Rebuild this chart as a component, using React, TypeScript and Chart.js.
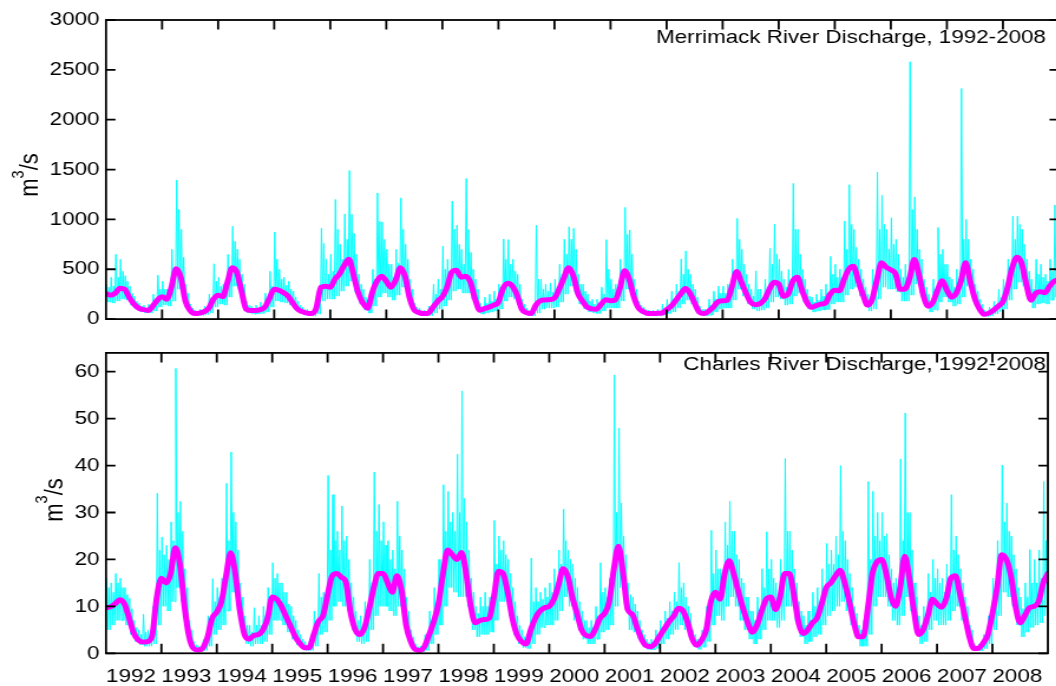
import React, { useEffect, useRef } from "react";
import { Chart, registerables } from "chart.js";

Chart.register(...registerables);

// ---------- data ----------
const START_YEAR = 1992;
const END_YEAR = 2009;
const YEAR_LABELS = [1992, 1993, 1994, 1995, 1996, 1997, 1998, 1999, 2000, 2001, 2002, 2003, 2004, 2005, 2006, 2007, 2008];

const MERRIMACK_TITLE = "Merrimack River Discharge, 1992-2008";
const CHARLES_TITLE = "Charles River Discharge, 1992-2008";
const MERRIMACK_TICKS = [0, 500, 1000, 1500, 2000, 2500, 3000];
const CHARLES_TICKS = [0, 10, 20, 30, 40, 50, 60];

// Merrimack: smoothed (monthly, Jan..Dec per row, plus Jan 2009)
const merrimackSmooth = [
  255, 240, 260, 310, 300, 215, 150, 110, 95, 87, 130, 190,
  225, 200, 320, 505, 420, 180, 87, 55, 60, 75, 110, 200,
  240, 225, 370, 515, 470, 280, 100, 87, 87, 95, 120, 210,
  300, 290, 265, 230, 160, 100, 75, 60, 55, 110, 320, 330,
  320, 400, 455, 540, 600, 440, 260, 160, 110, 270, 380, 430,
  380, 320, 390, 515, 430, 210, 90, 65, 55, 60, 120, 180,
  225, 320, 470, 490, 420, 430, 370, 200, 90, 105, 120, 140,
  170, 310, 360, 330, 240, 100, 65, 55, 140, 185, 192, 195,
  210, 300, 410, 515, 440, 260, 180, 120, 103, 100, 150, 195,
  185, 190, 310, 485, 400, 220, 110, 75, 55, 55, 58, 61,
  95, 130, 190, 250, 306, 260, 160, 70, 55, 80, 120, 175,
  184, 190, 330, 477, 370, 260, 170, 145, 155, 200, 300, 370,
  350, 230, 250, 380, 420, 290, 170, 118, 135, 150, 161, 250,
  290, 285, 400, 500, 530, 390, 250, 140, 200, 390, 565, 520,
  494, 455, 300, 300, 410, 597, 450, 230, 130, 170, 290, 385,
  290, 220, 260, 380, 565, 380, 200, 100, 48, 60, 90, 130,
  175, 320, 520, 620, 560, 350, 190, 260, 275, 265, 330, 380,
  400,
];
// Merrimack: largest daily value in each month
const merrimackHigh = [
  350, 420, 650, 600, 435, 330, 230, 160, 140, 150, 250, 440,
  380, 300, 700, 1394, 900, 350, 150, 90, 100, 130, 250, 555,
  420, 350, 650, 932, 700, 450, 180, 130, 140, 170, 260, 480,
  874, 500, 420, 380, 280, 180, 120, 100, 80, 250, 910, 600,
  650, 1200, 750, 1055, 1490, 860, 450, 300, 200, 500, 1265, 975,
  700, 550, 700, 1216, 750, 400, 160, 110, 90, 130, 350, 400,
  732, 600, 1184, 942, 700, 1410, 668, 400, 160, 220, 250, 280,
  350, 803, 797, 600, 450, 200, 110, 100, 942, 400, 350, 360,
  400, 550, 800, 926, 910, 450, 350, 250, 200, 200, 320, 797,
  400, 350, 600, 1120, 894, 400, 180, 120, 90, 90, 100, 150,
  200, 280, 350, 603, 684, 450, 300, 130, 100, 200, 280, 330,
  330, 350, 600, 1010, 700, 450, 300, 484, 300, 400, 710, 952,
  600, 400, 500, 1361, 900, 500, 300, 220, 250, 300, 350, 629,
  550, 500, 984, 1348, 900, 600, 400, 250, 500, 1474, 1242, 900,
  1016, 800, 500, 550, 2581, 1226, 700, 400, 250, 400, 919, 700,
  550, 400, 500, 2313, 1000, 600, 350, 200, 90, 120, 180, 300,
  400, 600, 1032, 1032, 900, 600, 400, 600, 550, 450, 600, 1145,
];
// Merrimack: second daily peak in each month
const merrimackMid = [
  320, 330, 420, 480, 380, 260, 180, 130, 110, 110, 200, 300,
  300, 260, 480, 1100, 620, 260, 110, 70, 80, 100, 170, 380,
  330, 300, 520, 780, 600, 350, 140, 100, 110, 130, 190, 330,
  600, 400, 340, 300, 220, 140, 95, 75, 65, 180, 760, 450,
  480, 900, 600, 800, 1050, 650, 350, 220, 150, 400, 980, 800,
  550, 420, 560, 900, 600, 300, 120, 80, 70, 90, 250, 300,
  500, 480, 900, 750, 550, 900, 500, 300, 120, 160, 180, 200,
  260, 600, 550, 480, 350, 150, 85, 75, 400, 300, 280, 270,
  320, 450, 650, 800, 700, 350, 280, 180, 150, 150, 250, 500,
  300, 280, 480, 850, 650, 300, 140, 95, 70, 70, 80, 100,
  150, 200, 280, 450, 500, 350, 220, 100, 75, 140, 200, 260,
  260, 280, 480, 800, 550, 350, 230, 300, 220, 300, 550, 650,
  480, 320, 400, 900, 650, 400, 230, 170, 190, 230, 260, 450,
  420, 400, 700, 950, 720, 500, 320, 190, 350, 900, 950, 700,
  750, 650, 420, 420, 1100, 900, 600, 320, 180, 300, 650, 550,
  420, 320, 400, 800, 800, 500, 280, 150, 70, 90, 140, 220,
  300, 480, 800, 950, 750, 480, 300, 450, 420, 380, 480, 700,
];
// Merrimack: smallest daily value in each month
const merrimackLow = [
  170, 160, 180, 200, 190, 140, 100, 75, 60, 60, 80, 120,
  140, 130, 180, 300, 250, 110, 50, 35, 35, 45, 60, 120,
  150, 140, 220, 330, 300, 160, 60, 50, 50, 55, 70, 120,
  180, 170, 160, 140, 100, 60, 40, 35, 30, 50, 180, 200,
  200, 230, 280, 330, 380, 270, 150, 90, 60, 130, 220, 260,
  220, 190, 240, 320, 260, 120, 50, 35, 30, 35, 60, 100,
  130, 190, 280, 300, 260, 260, 200, 110, 50, 60, 70, 80,
  100, 180, 220, 200, 140, 55, 35, 30, 60, 100, 110, 110,
  120, 170, 250, 330, 270, 150, 100, 70, 60, 55, 80, 110,
  110, 110, 180, 300, 250, 130, 60, 40, 30, 30, 30, 35,
  55, 70, 110, 150, 190, 150, 90, 40, 30, 40, 70, 100,
  110, 110, 190, 300, 230, 150, 100, 80, 90, 110, 170, 220,
  200, 140, 150, 230, 260, 170, 100, 70, 80, 90, 95, 150,
  170, 170, 240, 300, 320, 230, 140, 80, 100, 200, 320, 300,
  300, 270, 180, 180, 240, 350, 260, 130, 70, 90, 170, 220,
  170, 130, 150, 220, 330, 220, 110, 55, 25, 30, 50, 75,
  100, 190, 300, 370, 330, 200, 110, 150, 160, 150, 190, 220,
];

// Charles: smoothed (monthly, plus Jan 2009)
const charlesSmooth = [
  9.7, 9.9, 10.6, 11.4, 10.5, 7.5, 4.3, 2.8, 2.4, 2.5, 3.8, 12.0,
  16.0, 15.0, 17.0, 22.5, 19.0, 10.0, 3.5, 1.0, 0.7, 1.2, 3.5, 7.5,
  8.8, 11.0, 16.5, 21.4, 17.0, 9.0, 4.0, 3.0, 3.8, 4.0, 5.0, 7.5,
  12.0, 11.5, 10.0, 7.8, 5.7, 3.5, 2.1, 1.2, 1.2, 4.0, 6.8, 8.0,
  12.5, 16.5, 17.0, 16.2, 15.0, 8.5, 5.0, 4.0, 5.5, 9.5, 14.0, 17.0,
  17.0, 15.0, 13.0, 16.5, 13.5, 6.0, 2.5, 0.8, 0.6, 1.5, 4.0, 6.8,
  10.5, 17.0, 22.0, 21.0, 20.0, 21.5, 17.0, 10.0, 6.5, 7.0, 7.2, 7.5,
  12.0, 17.5, 17.0, 13.0, 7.5, 4.0, 2.5, 2.0, 5.0, 7.5, 9.0, 9.7,
  10.0, 11.5, 14.5, 18.0, 16.5, 12.0, 8.5, 5.0, 3.8, 3.6, 5.2, 7.5,
  8.5, 11.0, 18.0, 22.8, 17.0, 9.3, 8.3, 5.5, 3.0, 1.6, 1.4, 2.2,
  3.8, 5.3, 6.8, 8.0, 9.6, 9.0, 6.5, 3.0, 1.7, 2.8, 5.0, 11.0,
  13.0, 11.5, 17.0, 19.7, 16.8, 13.0, 9.5, 6.5, 4.5, 6.0, 9.0, 11.5,
  12.0, 9.3, 12.0, 17.0, 17.0, 12.5, 6.5, 4.2, 5.0, 6.5, 7.5, 10.5,
  14.0, 15.0, 16.5, 17.7, 15.0, 11.0, 6.5, 3.5, 3.5, 9.5, 17.0, 19.5,
  20.0, 17.0, 12.0, 10.0, 14.0, 20.7, 16.0, 9.0, 4.0, 5.0, 8.0, 11.5,
  10.5, 9.8, 11.7, 16.0, 16.5, 12.5, 8.0, 3.5, 1.0, 1.1, 2.2, 4.0,
  8.5, 14.0, 21.0, 20.0, 16.5, 10.0, 6.5, 8.0, 9.7, 10.0, 11.0, 15.0,
  17.0,
];
// Charles: largest daily value in each month
const charlesHigh = [
  16, 15, 17, 16, 14, 11.7, 7, 5, 8.3, 5, 10, 34.1,
  24.8, 23, 28, 60.7, 32.4, 18, 7, 2.5, 1.5, 3, 8, 15.9,
  14, 16, 36.2, 42.9, 28, 15, 8, 6, 9.7, 8, 10, 14,
  19.3, 17, 15, 13, 10, 7, 4, 2.5, 3, 9, 17, 13,
  37.9, 33.8, 26, 31.4, 25, 15, 9, 8, 11, 20, 38.6, 31.7,
  28, 24, 22, 32.4, 22, 12, 5, 2, 1.5, 4, 9, 14,
  20, 35.9, 34.5, 30, 42.4, 55.9, 28, 16, 10, 12, 13, 12,
  28.3, 25, 24, 20, 14, 8, 5, 4, 20.3, 14, 13, 14,
  15, 18, 22, 30.7, 22, 19, 14, 9, 7, 7, 10, 19.3,
  14, 16, 59.3, 48, 25, 15, 12, 9, 5, 3, 3, 5,
  7, 9, 11, 13, 19.3, 15, 10, 5, 3, 5, 10, 26.2,
  22, 18, 28, 32.4, 26, 20, 15, 12, 9, 12, 18, 25.9,
  20, 15, 20, 41.5, 26, 18, 11, 8, 9, 13, 14, 18,
  23.4, 22, 25, 40, 24, 17, 10, 6, 7, 36.6, 34.5, 30,
  30, 25.5, 18, 16, 41.4, 51.2, 30, 15, 8, 10, 17, 20,
  18, 16, 19, 33.8, 25, 18, 12, 6, 2, 2, 4, 8,
  16, 24, 40.1, 32, 25, 18, 12, 15, 22.1, 20, 22, 36.6,
];
// Charles: second daily peak in each month
const charlesMid = [
  14, 13, 15, 14, 12.5, 9.5, 5.5, 4, 4.5, 3.5, 7, 22,
  21, 20, 24, 30, 26, 14, 5, 1.8, 1.1, 2, 6, 11,
  12, 14, 24, 30, 22, 12, 6, 4.5, 6, 6, 8, 11,
  16, 15, 13, 10.5, 8, 5, 3, 1.8, 2, 6.5, 12, 11,
  22, 24, 22, 24, 20, 12, 7, 6, 8, 15, 26, 24,
  23, 20, 18, 25, 18, 9, 3.5, 1.4, 1, 2.8, 6.5, 10,
  15, 26, 28, 26, 30, 33, 22, 13, 8.5, 10, 10, 10,
  19, 22, 21, 17, 11, 6, 3.5, 3, 11, 11, 11.5, 12,
  13, 15, 19, 24, 20, 16, 11, 7, 5.5, 5.5, 8, 13,
  12, 14, 30, 32, 21, 12.5, 10.5, 7, 4, 2.3, 2.2, 3.5,
  5.5, 7.5, 9, 11, 14, 12, 8.5, 4, 2.4, 4, 8, 17,
  18, 15, 23, 26, 21, 16, 12, 9, 7, 9, 14, 18,
  16, 12.5, 16, 26, 22, 15, 9, 6, 7, 10, 11, 14,
  19, 19, 21, 26, 20, 14, 8.5, 5, 5, 20, 25, 24,
  25, 21, 15, 13, 24, 30, 22, 12, 6, 8, 13, 16,
  15, 13, 16, 22, 21, 15, 10, 5, 1.5, 1.6, 3, 6,
  12, 19, 28, 26, 21, 14, 9.5, 12, 15, 15, 16, 24,
];
// Charles: smallest daily value in each month
const charlesLow = [
  5, 6, 7, 7, 6, 4, 2.5, 1.8, 1.5, 1.5, 2, 6,
  10, 9, 11, 14, 11, 5, 1.5, 0.5, 0.4, 0.6, 1.5, 4,
  5, 6, 9, 13, 10, 4.5, 2, 1.5, 2, 2, 2.5, 4,
  7, 7, 6, 4.5, 3, 1.8, 1, 0.6, 0.6, 1.5, 4, 4.5,
  7, 10, 11, 10, 9, 5, 2.5, 2, 2.5, 5, 8, 10,
  10, 9, 8, 10, 8, 3, 1, 0.3, 0.3, 0.6, 2, 4,
  6, 10, 14, 13, 12, 12, 10, 5, 3.5, 4, 4, 4.5,
  7, 11, 11, 8, 4, 2, 1.2, 1, 2, 4, 5.5, 6,
  6, 7, 9, 12, 10, 7, 5, 3, 2, 2, 3, 4.5,
  5, 6, 10, 14, 10, 5, 4.5, 3, 1.5, 0.8, 0.7, 1,
  2, 3, 4, 5, 6, 5, 3.5, 1.5, 0.8, 1.3, 2.5, 6,
  8, 7, 10, 12, 10, 7, 5, 3, 2, 3, 5, 7,
  7, 5.5, 7, 10, 10, 7, 3.5, 2, 2.5, 3.5, 4, 6,
  8, 9, 10, 11, 9, 6, 3.5, 1.5, 1.5, 4, 10, 12,
  12, 10, 7, 6, 8, 12, 9, 5, 2, 2.5, 5, 7,
  6, 6, 7, 9, 10, 7, 4.5, 1.5, 0.5, 0.5, 1, 2,
  5, 8, 13, 12, 10, 6, 3.5, 4.5, 5.5, 6, 6.5, 8,
];

// ---------- styling / layout ----------
const STRETCH = 1.18; // the reference is rendered horizontally stretched
const FONT_FAMILY = '"Liberation Sans", Arial, Helvetica, sans-serif';
const FONT_SIZE = 19;
const LABEL_SIZE = 22;
const CANVAS_W = 900;
const PLOT_LEFT = 106 / STRETCH;
const PLOT_RIGHT = 1059 / STRETCH;
const CYAN = "#00ffff";
const MAGENTA = "#ff00ff";

function monthlyPoints(values: number[]) {
  return values.map((v, i) => ({ x: START_YEAR + i / 12, y: v }));
}

function dailyLikePoints(high: number[], mid: number[], low: number[]) {
  const pts: { x: number; y: number }[] = [];
  for (let i = 0; i < high.length; i++) {
    const t = START_YEAR + i / 12;
    pts.push({ x: t + 0.12 / 12, y: high[i] });
    pts.push({ x: t + 0.37 / 12, y: low[i] });
    pts.push({ x: t + 0.62 / 12, y: mid[i] });
    pts.push({ x: t + 0.87 / 12, y: low[i] });
  }
  return pts;
}

type PanelSpec = {
  smooth: number[];
  high: number[];
  mid: number[];
  low: number[];
  yMax: number;
  yStep: number;
  yTicks: number[];
  title: string;
  titleBaseline: number;
  padTop: number;
  showX: boolean;
  xAxisHeight: number;
  padBottom: number;
  yLabelX: number;
  yLabelY: number;
};

function makePanel(canvas: HTMLCanvasElement, spec: PanelSpec) {
  const font = { family: FONT_FAMILY, size: FONT_SIZE };
  const frame = {
    id: "frame",
    afterDraw(chart: any) {
      const { ctx, chartArea: a, scales } = chart;
      const xs = scales.x;
      const ys = scales.y;
      ctx.save();
      ctx.strokeStyle = "#000";
      ctx.lineWidth = 1.8;
      ctx.strokeRect(a.left, a.top, a.right - a.left, a.bottom - a.top);
      ctx.beginPath();
      const tl = 9.5;
      const tlx = 9.5 / STRETCH;
      for (const yr of YEAR_LABELS) {
        if (yr === START_YEAR) continue;
        const px = xs.getPixelForValue(yr);
        ctx.moveTo(px, a.bottom);
        ctx.lineTo(px, a.bottom - tl);
        ctx.moveTo(px, a.top);
        ctx.lineTo(px, a.top + tl);
      }
      for (const v of spec.yTicks) {
        const py = ys.getPixelForValue(v);
        ctx.moveTo(a.left, py);
        ctx.lineTo(a.left + tlx, py);
        ctx.moveTo(a.right, py);
        ctx.lineTo(a.right - tlx, py);
      }
      ctx.stroke();

      ctx.fillStyle = "#000";
      ctx.font = `${FONT_SIZE}px ${FONT_FAMILY}`;
      ctx.textAlign = "right";
      ctx.textBaseline = "alphabetic";
      ctx.fillText(spec.title, 1046 / STRETCH, spec.titleBaseline);

      // y label m^3/s
      ctx.translate(spec.yLabelX, spec.yLabelY);
      ctx.rotate(-Math.PI / 2);
      ctx.textAlign = "left";
      const big = `${LABEL_SIZE}px ${FONT_FAMILY}`;
      const small = `${LABEL_SIZE * 0.66}px ${FONT_FAMILY}`;
      ctx.font = big;
      const wm = ctx.measureText("m").width;
      const ws2 = ctx.measureText("/s").width;
      ctx.font = small;
      const w3 = ctx.measureText("3").width;
      const total = wm + w3 + ws2;
      let x0 = -total / 2;
      ctx.font = big;
      ctx.fillText("m", x0, 0);
      x0 += wm;
      ctx.font = small;
      ctx.fillText("3", x0, -LABEL_SIZE * 0.55);
      x0 += w3;
      ctx.font = big;
      ctx.fillText("/s", x0, 0);
      ctx.restore();
    },
  };

  return new Chart(canvas, {
    type: "line",
    data: {
      datasets: [
        {
          data: monthlyPoints(spec.smooth),
          borderColor: MAGENTA,
          borderWidth: 5,
          pointRadius: 0,
          cubicInterpolationMode: "monotone",
          borderJoinStyle: "round",
          borderCapStyle: "round",
        },
        {
          data: dailyLikePoints(spec.high, spec.mid, spec.low),
          borderColor: CYAN,
          borderWidth: 1,
          pointRadius: 0,
          tension: 0,
        },
      ],
    },
    options: {
      animation: false,
      responsive: false,
      maintainAspectRatio: false,
      devicePixelRatio: 1,
      events: [],
      layout: {
        padding: {
          left: 0,
          right: CANVAS_W - PLOT_RIGHT,
          top: spec.padTop,
          bottom: spec.padBottom,
        },
      },
      plugins: { legend: { display: false }, tooltip: { enabled: false } },
      scales: {
        x: {
          type: "linear",
          min: START_YEAR,
          max: END_YEAR,
          display: spec.showX,
          grid: { display: false, drawTicks: false },
          border: { display: false },
          ticks: {
            stepSize: 1,
            autoSkip: false,
            maxRotation: 0,
            minRotation: 0,
            align: "start",
            padding: 12,
            font,
            color: "#000",
            callback: (v: any) => (Number(v) < END_YEAR ? String(v) : ""),
          },
          afterFit: (s: any) => {
            if (spec.showX) s.height = spec.xAxisHeight;
          },
        },
        y: {
          type: "linear",
          min: 0,
          max: spec.yMax,
          grid: { display: false, drawTicks: false },
          border: { display: false },
          ticks: {
            stepSize: spec.yStep,
            includeBounds: false,
            padding: 5.5,
            font,
            color: "#000",
            callback: (v: any) => String(v),
          },
          afterFit: (s: any) => {
            s.width = PLOT_LEFT;
          },
        },
      },
    } as any,
    plugins: [frame],
  } as any);
}

export default function App() {
  const topRef = useRef<HTMLCanvasElement>(null);
  const botRef = useRef<HTMLCanvasElement>(null);

  useEffect(() => {
    const top = makePanel(topRef.current!, {
      smooth: merrimackSmooth,
      high: merrimackHigh,
      mid: merrimackMid,
      low: merrimackLow,
      yMax: 3000,
      yStep: 500,
      yTicks: MERRIMACK_TICKS,
      title: MERRIMACK_TITLE,
      titleBaseline: 43,
      padTop: 20,
      showX: false,
      xAxisHeight: 0,
      padBottom: 336 - 329.5,
      yLabelX: 38 / STRETCH,
      yLabelY: 175,
    });
    const bottom = makePanel(botRef.current!, {
      smooth: charlesSmooth,
      high: charlesHigh,
      mid: charlesMid,
      low: charlesLow,
      yMax: 64,
      yStep: 10,
      yTicks: CHARLES_TICKS,
      title: CHARLES_TITLE,
      titleBaseline: 370 - 336,
      padTop: 344 - 336,
      showX: true,
      xAxisHeight: 350 - (653.3 - 336),
      padBottom: 0,
      yLabelX: 62 / STRETCH,
      yLabelY: 500 - 336,
    });
    return () => {
      top.destroy();
      bottom.destroy();
    };
  }, []);

  return (
    <div
      style={{
        position: "fixed",
        left: 0,
        top: 0,
        width: 1056,
        height: 686,
        overflow: "hidden",
        background: "#fff",
      }}
    >
      <canvas
        ref={topRef}
        width={CANVAS_W}
        height={336}
        style={{ position: "absolute", left: 0, top: 0, width: `${CANVAS_W * STRETCH}px`, height: "336px" }}
      />
      <canvas
        ref={botRef}
        width={CANVAS_W}
        height={350}
        style={{ position: "absolute", left: 0, top: 336, width: `${CANVAS_W * STRETCH}px`, height: "350px" }}
      />
    </div>
  );
}
